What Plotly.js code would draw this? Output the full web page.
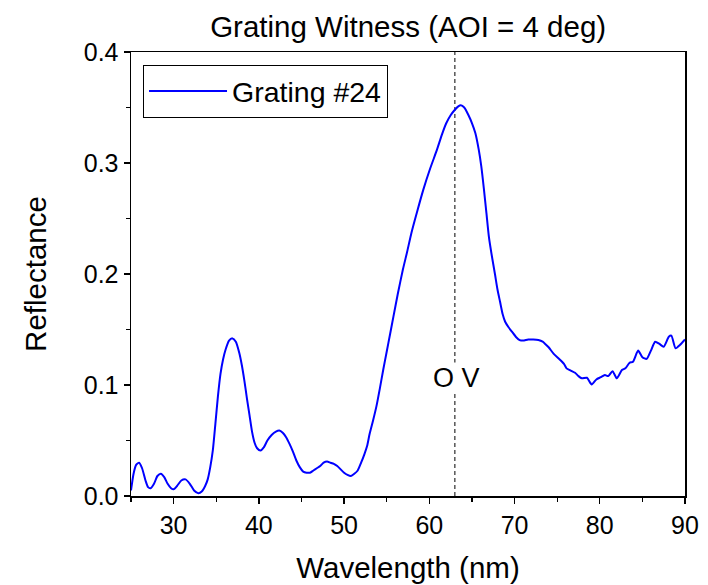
<!DOCTYPE html>
<html>
<head>
<meta charset="utf-8">
<script src="https://cdn.plot.ly/plotly-3.0.1.min.js"></script>
<style>html,body{margin:0;padding:0;background:#fff;}#chart{width:708px;height:585px;}</style>
</head>
<body>
<div id="chart"></div>
<script>
const wavelength = [25.0,25.3,25.6,25.95,26.3,26.7,27.0,27.3,27.7,28.1,28.5,28.9,29.3,29.7,30.0,30.4,30.9,31.4,31.9,32.4,32.9,33.3,33.7,34.0,34.3,34.6,34.9,35.2,35.5,35.8,36.1,36.5,36.9,37.3,37.7,38.0,38.3,38.6,38.9,39.2,39.5,39.8,40.2,40.6,41.0,41.5,42.0,42.4,42.8,43.2,43.6,44.0,44.4,44.8,45.2,45.6,46.0,46.4,46.8,47.2,47.6,48.0,48.4,48.8,49.2,49.6,50.0,50.4,50.8,51.2,51.6,52.0,52.4,52.7,53.0,53.4,53.8,54.2,54.6,55.0,55.4,55.8,56.3,56.9,57.4,57.9,58.6,59.3,60.1,60.9,61.5,62.0,62.5,63.0,63.4,63.7,64.1,64.6,65.0,65.4,65.8,66.1,66.4,66.7,67.0,67.3,67.7,68.0,68.3,68.6,68.9,69.3,69.7,70.2,70.6,71.0,71.6,72.2,72.8,73.3,73.6,74.0,74.6,75.3,75.8,76.1,76.6,77.1,77.5,77.9,78.5,79.05,79.6,80.1,80.6,81.0,81.5,82.0,82.6,83.0,83.5,83.9,84.5,85.0,85.5,86.0,86.5,87.0,87.5,88.1,88.4,88.9,89.4,90.0];
const reflectance = [0.005,0.020,0.028,0.030,0.025,0.014,0.008,0.007,0.011,0.018,0.020,0.017,0.011,0.007,0.006,0.009,0.014,0.015,0.011,0.005,0.0025,0.004,0.009,0.015,0.026,0.041,0.065,0.090,0.110,0.123,0.132,0.140,0.142,0.139,0.129,0.118,0.104,0.088,0.073,0.058,0.048,0.043,0.041,0.044,0.050,0.055,0.058,0.059,0.057,0.053,0.047,0.040,0.032,0.026,0.022,0.021,0.021,0.023,0.025,0.027,0.030,0.031,0.030,0.029,0.027,0.024,0.021,0.019,0.018,0.020,0.023,0.030,0.038,0.045,0.056,0.068,0.081,0.097,0.114,0.130,0.146,0.162,0.182,0.204,0.220,0.237,0.257,0.276,0.295,0.312,0.326,0.336,0.343,0.348,0.351,0.352,0.350,0.343,0.336,0.327,0.312,0.297,0.277,0.255,0.233,0.218,0.200,0.186,0.175,0.164,0.157,0.152,0.148,0.143,0.1405,0.140,0.141,0.141,0.1405,0.139,0.137,0.134,0.128,0.123,0.119,0.115,0.113,0.111,0.108,0.106,0.1065,0.1005,0.105,0.107,0.109,0.108,0.1125,0.106,0.1135,0.115,0.120,0.121,0.131,0.125,0.1235,0.131,0.139,0.137,0.1345,0.1435,0.1445,0.133,0.136,0.141];
const seriesName = "Grating #24";
const markerWavelength = 63.0;
const markerLabel = "O V";
const markerLabelY = 0.106;
const xTickVals = [30,40,50,60,70,80,90];
const yTickVals = [0.0,0.1,0.2,0.3,0.4];

const FONT = "Arial, 'Liberation Sans', sans-serif";

const trace = {
  x: wavelength, y: reflectance, type: 'scatter', mode: 'lines', name: seriesName,
  line: {color: '#0000ff', width: 2, shape: 'spline', smoothing: 0.6}
};

const layout = {
  width: 708, height: 585,
  margin: {l: 131, r: 23, t: 52, b: 89, pad: 0},
  paper_bgcolor: '#fff', plot_bgcolor: '#fff',
  font: {family: FONT, color: '#000', size: 25},
  title: {text: 'Grating Witness (AOI = 4 deg)', font: {family: FONT, size: 29.5, color: '#000'},
          x: 0.5765, xref: 'container', xanchor: 'center', y: 0.955, yref: 'container', yanchor: 'middle'},
  showlegend: true,
  legend: {x: 0.0217, y: 0.971, xanchor: 'left', yanchor: 'top', bordercolor: '#000', borderwidth: 1,
           bgcolor: '#fff', font: {family: FONT, size: 28.5, color: '#000'}, itemwidth: 78,
           tracegroupgap: 0},
  xaxis: {
    range: [25, 90], tickvals: xTickVals, ticks: 'outside', ticklen: 6, tickwidth: 1.3, tickcolor: '#000',
    showline: true, linecolor: '#000', linewidth: 1.5, mirror: true, showgrid: false, zeroline: false,
    tickfont: {family: FONT, size: 25, color: '#000'},
    minor: {dtick: 5, tick0: 25, ticks: 'outside', ticklen: 4, tickwidth: 1.3, tickcolor: '#000', showgrid: false},
    title: {text: 'Wavelength (nm)', font: {family: FONT, size: 29.5, color: '#000'}, standoff: 20}
  },
  yaxis: {
    range: [0, 0.4], tickvals: yTickVals, tickformat: '.1f', ticks: 'outside', ticklen: 6, tickwidth: 1.3, tickcolor: '#000',
    showline: true, linecolor: '#000', linewidth: 1.5, mirror: true, showgrid: false, zeroline: false,
    tickfont: {family: FONT, size: 25, color: '#000'},
    minor: {dtick: 0.05, tick0: 0, ticks: 'outside', ticklen: 4, tickwidth: 1.3, tickcolor: '#000', showgrid: false},
    title: {text: 'Reflectance', font: {family: FONT, size: 29.5, color: '#000'}, standoff: 28}
  },
  shapes: [{type: 'line', xref: 'x', yref: 'y', x0: markerWavelength, x1: markerWavelength, y0: 0, y1: 0.4,
            line: {color: '#000', width: 1, dash: '4px,3px'}, layer: 'below'}],
  annotations: [{x: markerWavelength, y: markerLabelY, xref: 'x', yref: 'y', text: markerLabel, showarrow: false,
                 font: {family: FONT, size: 27, color: '#000'}, bgcolor: '#fff', borderpad: 0,
                 xanchor: 'center', yanchor: 'middle', xshift: 2}]
};

Plotly.newPlot('chart', [trace], layout, {displayModeBar: false, staticPlot: true});
</script>
</body>
</html>
